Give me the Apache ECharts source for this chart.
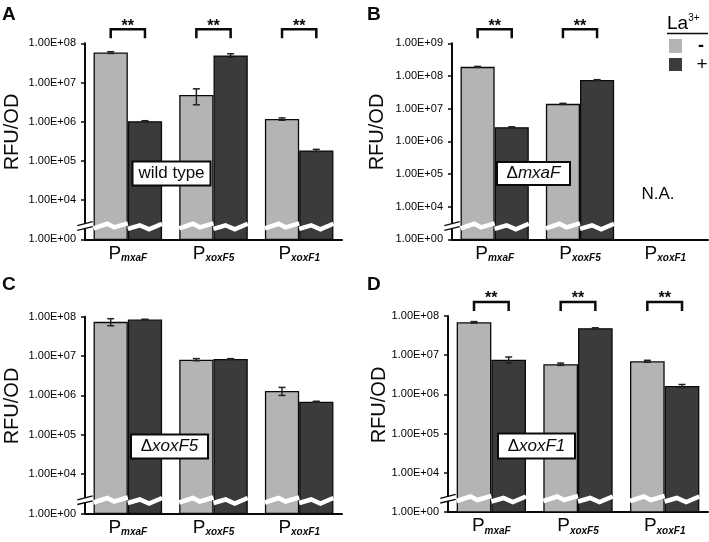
<!DOCTYPE html>
<html>
<head>
<meta charset="utf-8">
<script src="https://cdn.jsdelivr.net/npm/echarts@6/dist/echarts.min.js"></script>
<style>
html,body{margin:0;padding:0;background:#fff;}
#chart{width:709px;height:542px;}
</style>
</head>
<body>
<div id="chart"></div>
<script>
// ---------- data ----------
const categories = ['mxaF', 'xoxF5', 'xoxF1'];
const tickLabels8 = ['1.00E+00', '1.00E+04', '1.00E+05', '1.00E+06', '1.00E+07', '1.00E+08'];
const tickLabels9 = ['1.00E+00', '1.00E+04', '1.00E+05', '1.00E+06', '1.00E+07', '1.00E+08', '1.00E+09'];

// Panel A: wild type
const aMinus = [5.8e7, 4.8e6, 1.17e6];
const aMinusErr = [3e6, 2.1e6, 8e4];
const aPlus = [1.03e6, 4.9e7, 1.85e5];
const aPlusErr = [3e4, 5e6, 1.2e4];
const aSig = [0, 1, 2];
// Panel B: delta mxaF
const bMinus = [1.9e8, 1.4e7, null];
const bMinusErr = [6e6, 5e5, null];
const bPlus = [2.7e6, 7.5e7, null];
const bPlusErr = [8e4, 2e6, null];
const bSig = [0, 1];
// Panel C: delta xoxF5
const cMinus = [7.4e7, 8.1e6, 1.3e6];
const cMinusErr = [1.5e7, 5e5, 3e5];
const cPlus = [8.5e7, 8.4e6, 6.9e5];
const cPlusErr = [1e6, 2e5, 2e4];
const cSig = [];
// Panel D: delta xoxF1
const dMinus = [6.9e7, 5.9e6, 7.0e6];
const dMinusErr = [3e6, 4e5, 4e5];
const dPlus = [7.7e6, 4.9e7, 1.64e6];
const dPlusErr = [1.3e6, 1e6, 1.5e5];
const dSig = [0, 1, 2];

// ---------- styles ----------
const LIGHT = '#b4b4b4';
const DARK = '#3b3b3b';
const INK = '#0a0a0a';
const FONT = 'Liberation Sans, Arial, Helvetica, sans-serif';

const panels = [
  {grid: {left: 85, top: 43.3, width: 257, height: 196}, max: 1e8, ticks: tickLabels8,
   minus: aMinus, minusErr: aMinusErr, plus: aPlus, plusErr: aPlusErr, sig: aSig},
  {grid: {left: 452, top: 43.3, width: 256, height: 196}, max: 1e9, ticks: tickLabels9,
   minus: bMinus, minusErr: bMinusErr, plus: bPlus, plusErr: bPlusErr, sig: bSig},
  {grid: {left: 85, top: 316.7, width: 257, height: 196.8}, max: 1e8, ticks: tickLabels8,
   minus: cMinus, minusErr: cMinusErr, plus: cPlus, plusErr: cPlusErr, sig: cSig},
  {grid: {left: 448, top: 316, width: 260, height: 196}, max: 1e8, ticks: tickLabels8,
   minus: dMinus, minusErr: dMinusErr, plus: dPlus, plusErr: dPlusErr, sig: dSig}
];

const BAR_RATIO = 0.8;   // barCategoryGap 20%
const BREAK_UP = 13;     // px above the x axis where the break is drawn

function barGeom(params, api, idx, side) {
  const cs = params.coordSys;
  const catW = cs.width / categories.length;
  const bw = catW * BAR_RATIO / 2;
  const cx = api.coord([idx, 1e5])[0];
  const left = side ? cx : cx - bw;
  return {left: left, w: bw, center: left + bw / 2, base: cs.y + cs.height, top: cs.y, cs: cs};
}

function errorRender(side) {
  return function (params, api) {
    const i = api.value(0), m = api.value(1), e = api.value(2);
    const g = barGeom(params, api, i, side);
    const yt = api.coord([i, m + e])[1];
    const yb = api.coord([i, Math.max(m - e, 1001)])[1];
    const cap = 3.5, x = g.center;
    const st = {stroke: '#222', lineWidth: 1.5};
    return {type: 'group', children: [
      {type: 'line', shape: {x1: x, y1: yt, x2: x, y2: yb}, style: st},
      {type: 'line', shape: {x1: x - cap, y1: yt, x2: x + cap, y2: yt}, style: st},
      {type: 'line', shape: {x1: x - cap, y1: yb, x2: x + cap, y2: yb}, style: st}
    ]};
  };
}

function breakRender(params, api) {
  const i = api.value(0), side = api.value(2);
  const g = barGeom(params, api, i, side);
  const yc = g.base - BREAK_UP;
  const shape = side ? [[0, 2.5], [0.35, -1], [0.62, 3], [1, -2.5]]
                     : [[0, 2], [0.4, -2.5], [0.6, 1], [1, -3]];
  const pts = shape.map(p => [g.left + p[0] * g.w, yc + p[1]]);
  return {type: 'polyline', shape: {points: pts},
          style: {stroke: '#fff', lineWidth: 4.5, fill: null, lineJoin: 'miter'}};
}

function marksRender(sig) {
  return function (params, api) {
    const cs = params.coordSys;
    const ax = cs.x, base = cs.y + cs.height, yc = base - BREAK_UP;
    const children = [
      {type: 'rect', shape: {x: ax - 2.5, y: yc - 2.8, width: 5, height: 5}, style: {fill: '#fff'}},
      {type: 'line', shape: {x1: ax - 7.7, y1: yc - 0.6, x2: ax + 7.7, y2: yc - 4.6}, style: {stroke: INK, lineWidth: 1.3}},
      {type: 'line', shape: {x1: ax - 7.7, y1: yc + 4, x2: ax + 7.7, y2: yc + 0.4}, style: {stroke: INK, lineWidth: 1.3}}
    ];
    sig.forEach(function (idx) {
      const gl = barGeom(params, api, idx, 0), gr = barGeom(params, api, idx, 1);
      const top = cs.y - 14, legEnd = cs.y - 5;
      children.push({type: 'polyline', shape: {points: [[gl.center, legEnd], [gl.center, top], [gr.center, top], [gr.center, legEnd]]},
        style: {stroke: INK, lineWidth: 2.5, fill: null}});
      children.push({type: 'text', x: (gl.center + gr.center) / 2, y: top + 5,
        style: {text: '**', font: 'bold 16px ' + FONT, fill: INK, align: 'center', verticalAlign: 'bottom'}});
    });
    return {type: 'group', children: children};
  };
}

const grid = [], xAxis = [], yAxis = [], series = [];
panels.forEach(function (p, k) {
  grid.push(p.grid);
  xAxis.push({
    type: 'category', gridIndex: k, data: categories,
    axisLine: {lineStyle: {color: INK, width: 2}},
    axisTick: {show: false},
    axisLabel: {
      interval: 0, margin: 4,
      formatter: function (v) { return '{p|P}{s|' + v + '}'; },
      rich: {
        p: {fontSize: 19, fontFamily: FONT, color: INK, lineHeight: 20},
        s: {fontSize: 10, fontFamily: FONT, fontStyle: 'italic', fontWeight: 'bold', color: INK, lineHeight: 12, verticalAlign: 'bottom'}
      }
    }
  });
  yAxis.push({
    type: 'log', gridIndex: k, logBase: 10, min: 1000, max: p.max,
    axisLine: {show: true, lineStyle: {color: INK, width: 2}},
    axisTick: {show: true, length: 4, lineStyle: {color: INK, width: 1.5}},
    splitLine: {show: false},
    axisLabel: {
      margin: 9, fontSize: 11, fontFamily: FONT, color: '#000',
      formatter: (function (ticks) {
        return function (v) { return ticks[Math.round(Math.log10(v)) - 3] || ''; };
      })(p.ticks)
    }
  });
  const common = {type: 'bar', xAxisIndex: k, yAxisIndex: k, barGap: '0%', barCategoryGap: '20%', clip: true, animation: false};
  series.push(Object.assign({}, common, {name: '-', data: p.minus,
    itemStyle: {color: LIGHT, borderColor: INK, borderWidth: 1.3}}));
  series.push(Object.assign({}, common, {name: '+', data: p.plus,
    itemStyle: {color: DARK, borderColor: INK, borderWidth: 1.3}}));

  const breakData = [];
  p.minus.forEach(function (v, i) { if (v != null) breakData.push([i, v, 0]); });
  p.plus.forEach(function (v, i) { if (v != null) breakData.push([i, v, 1]); });
  series.push({type: 'custom', xAxisIndex: k, yAxisIndex: k, renderItem: breakRender, data: breakData,
    encode: {x: 0, y: 1}, z: 3, silent: true, animation: false});

  const errM = [], errP = [];
  p.minus.forEach(function (v, i) { if (v != null) errM.push([i, v, p.minusErr[i]]); });
  p.plus.forEach(function (v, i) { if (v != null) errP.push([i, v, p.plusErr[i]]); });
  series.push({type: 'custom', xAxisIndex: k, yAxisIndex: k, renderItem: errorRender(0), data: errM,
    encode: {x: 0, y: 1}, z: 4, silent: true, animation: false});
  series.push({type: 'custom', xAxisIndex: k, yAxisIndex: k, renderItem: errorRender(1), data: errP,
    encode: {x: 0, y: 1}, z: 4, silent: true, animation: false});

  series.push({type: 'custom', xAxisIndex: k, yAxisIndex: k, renderItem: marksRender(p.sig), data: [[0, 1e5]],
    encode: {x: 0, y: 1}, z: 5, silent: true, clip: false, animation: false});
});

function box(x, y, w, h, rich, text) {
  return {type: 'group', z: 50, children: [
    {type: 'rect', shape: {x: x, y: y, width: w, height: h}, style: {fill: '#fff', stroke: INK, lineWidth: 2}, z: 50},
    {type: 'text', x: x + w / 2, y: y + h / 2, z: 51,
     style: {text: text, rich: rich, font: '17px ' + FONT, fill: INK, align: 'center', verticalAlign: 'middle'}}
  ]};
}
const boxRich = {
  a: {fontSize: 17, fontFamily: FONT, color: INK},
  b: {fontSize: 17, fontFamily: FONT, fontStyle: 'italic', color: INK}
};

const graphic = [
  // panel letters
  {type: 'text', x: 2, y: 5, style: {text: 'A', font: 'bold 19px ' + FONT, fill: INK}},
  {type: 'text', x: 367, y: 5, style: {text: 'B', font: 'bold 19px ' + FONT, fill: INK}},
  {type: 'text', x: 2, y: 275, style: {text: 'C', font: 'bold 19px ' + FONT, fill: INK}},
  {type: 'text', x: 367, y: 275, style: {text: 'D', font: 'bold 19px ' + FONT, fill: INK}},
  // y axis titles
  {type: 'text', x: 12, y: 132, rotation: Math.PI / 2, style: {text: 'RFU/OD', font: '20px ' + FONT, fill: INK, align: 'center', verticalAlign: 'middle'}},
  {type: 'text', x: 377, y: 132, rotation: Math.PI / 2, style: {text: 'RFU/OD', font: '20px ' + FONT, fill: INK, align: 'center', verticalAlign: 'middle'}},
  {type: 'text', x: 12, y: 406, rotation: Math.PI / 2, style: {text: 'RFU/OD', font: '20px ' + FONT, fill: INK, align: 'center', verticalAlign: 'middle'}},
  {type: 'text', x: 379, y: 405, rotation: Math.PI / 2, style: {text: 'RFU/OD', font: '20px ' + FONT, fill: INK, align: 'center', verticalAlign: 'middle'}},
  // strain boxes
  box(132.5, 161.5, 78, 24, boxRich, '{a|wild type}'),
  box(497, 162, 73, 23, boxRich, '{a|Δ}{b|mxaF}'),
  box(131, 434.5, 77, 24, boxRich, '{a|Δ}{b|xoxF5}'),
  box(498, 433.5, 77, 25, boxRich, '{a|Δ}{b|xoxF1}'),
  // N.A.
  {type: 'text', x: 658, y: 194, style: {text: 'N.A.', font: '17px ' + FONT, fill: INK, align: 'center', verticalAlign: 'middle'}},
  // legend
  {type: 'text', x: 667, y: 33, style: {text: '{l|La}{s|3+}', rich: {
    l: {fontSize: 19, fontFamily: FONT, color: INK, lineHeight: 20, verticalAlign: 'bottom'},
    s: {fontSize: 10, fontFamily: FONT, color: INK, lineHeight: 10, verticalAlign: 'top'}
  }, align: 'left', verticalAlign: 'bottom'}},
  {type: 'line', shape: {x1: 667, y1: 33.5, x2: 708, y2: 33.5}, style: {stroke: INK, lineWidth: 1.5}},
  {type: 'rect', shape: {x: 669, y: 39, width: 13, height: 14}, style: {fill: LIGHT}},
  {type: 'rect', shape: {x: 669, y: 58, width: 13, height: 13}, style: {fill: DARK}},
  {type: 'text', x: 701, y: 46, style: {text: '-', font: 'bold 18px ' + FONT, fill: INK, align: 'center', verticalAlign: 'middle'}},
  {type: 'text', x: 702, y: 65, style: {text: '+', font: '19px ' + FONT, fill: INK, align: 'center', verticalAlign: 'middle'}}
];

const chart = echarts.init(document.getElementById('chart'), null, {renderer: 'canvas'});
chart.setOption({
  animation: false,
  backgroundColor: '#fff',
  grid: grid, xAxis: xAxis, yAxis: yAxis, series: series, graphic: graphic
});
</script>
</body>
</html>
